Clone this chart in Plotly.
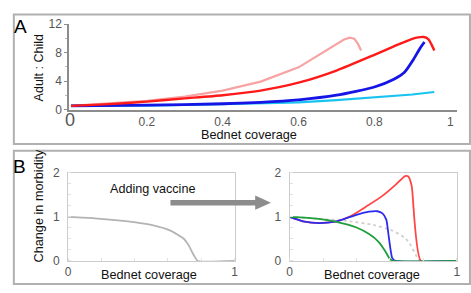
import plotly.graph_objects as go

W, H = 471, 293

# ---------- Panel A data ----------
pink_x = [0, 0.1, 0.2, 0.3, 0.4, 0.5, 0.6, 0.72, 0.735, 0.747, 0.756, 0.765]
pink_y = [0.55, 0.85, 1.25, 1.85, 2.7, 3.95, 5.95, 9.85, 10.1, 9.95, 9.3, 8.3]
red_x = [0, 0.1, 0.2, 0.3, 0.4, 0.5, 0.6, 0.7, 0.8, 0.85, 0.9, 0.93, 0.942, 0.95, 0.958]
red_y = [0.55, 0.8, 1.15, 1.6, 2.05, 2.7, 3.8, 5.5, 7.7, 8.85, 9.95, 10.2, 9.9, 9.2, 8.3]
blue_x = [0, 0.2, 0.4, 0.5, 0.6, 0.7, 0.8, 0.85, 0.88, 0.903, 0.92, 0.932]
blue_y = [0.55, 0.65, 0.85, 1.05, 1.4, 2.05, 3.2, 4.25, 5.3, 7.05, 8.6, 9.5]
cyan_x = [0, 0.2, 0.4, 0.5, 0.6, 0.7, 0.8, 0.9, 0.958]
cyan_y = [0.55, 0.6, 0.78, 0.9, 1.05, 1.35, 1.7, 2.15, 2.5]
a_xticks = [0.2, 0.4, 0.6, 0.8, 1]
a_xticklabels = ["0.2", "0.4", "0.6", "0.8", "1"]
a_yticks = [0, 4, 8, 12]

# ---------- Panel B data ----------
base_x = [0, 0.16, 0.36, 0.5, 0.615, 0.694, 0.724, 0.753, 0.78, 1.0]
base_y = [1.0, 0.97, 0.9, 0.82, 0.69, 0.51, 0.36, 0.145, 0, 0]
redb_x = [0, 0.08, 0.18, 0.28, 0.36, 0.455, 0.555, 0.633, 0.69, 0.71, 0.73, 0.785, 1.0]
redb_y = [1.0, 0.9, 0.86, 0.9, 1.01, 1.23, 1.48, 1.73, 1.93, 1.92, 1.70, 0, 0]
blueb_x = [0, 0.08, 0.18, 0.28, 0.40, 0.475, 0.525, 0.555, 0.578, 0.593, 0.613, 0.632, 1.0]
blueb_y = [1.0, 0.9, 0.86, 0.9, 1.05, 1.12, 1.13, 1.08, 0.94, 0.54, 0.07, 0, 0]
green_x = [0, 0.16, 0.28, 0.40, 0.475, 0.533, 0.572, 0.60, 0.62, 1.0]
green_y = [1.0, 0.96, 0.89, 0.76, 0.61, 0.43, 0.22, 0.04, 0, 0]
b_xticks = [0, 1]
b_yticks = [0, 1, 2]

FONT = "Liberation Sans, Arial, sans-serif"

def px(x):
    return x / W

def py(y):
    return 1 - y / H

fig = go.Figure()

# Panel A traces
fig.add_trace(go.Scatter(x=pink_x, y=pink_y, mode="lines", line=dict(color="#f7a3a3", width=2.2), xaxis="x", yaxis="y"))
fig.add_trace(go.Scatter(x=cyan_x, y=cyan_y, mode="lines", line=dict(color="#19c3f0", width=2.2), xaxis="x", yaxis="y"))
fig.add_trace(go.Scatter(x=blue_x, y=blue_y, mode="lines", line=dict(color="#1515e6", width=2.8, shape="spline", smoothing=0.6), xaxis="x", yaxis="y"))
fig.add_trace(go.Scatter(x=red_x, y=red_y, mode="lines", line=dict(color="#ff1a1a", width=2.4, shape="spline", smoothing=0.6), xaxis="x", yaxis="y"))

# Panel B left
fig.add_trace(go.Scatter(x=base_x, y=base_y, mode="lines", line=dict(color="#b3b3b3", width=1.8, shape="spline", smoothing=0.5), xaxis="x2", yaxis="y2"))
# Panel B right
fig.add_trace(go.Scatter(x=base_x, y=base_y, mode="lines", line=dict(color="#cfcfcf", width=1.8, dash="dot", shape="spline", smoothing=0.5), xaxis="x3", yaxis="y3"))
fig.add_trace(go.Scatter(x=redb_x, y=redb_y, mode="lines", line=dict(color="#ff4545", width=1.8, shape="spline", smoothing=0.5), xaxis="x3", yaxis="y3"))
fig.add_trace(go.Scatter(x=blueb_x, y=blueb_y, mode="lines", line=dict(color="#2b2bef", width=1.8, shape="spline", smoothing=0.5), xaxis="x3", yaxis="y3"))
fig.add_trace(go.Scatter(x=green_x, y=green_y, mode="lines", line=dict(color="#1f9e3c", width=1.8, shape="spline", smoothing=0.5), xaxis="x3", yaxis="y3"))

tickfont = dict(family=FONT, size=12, color="#555555")

# Axes for panel A: 0 -> px 69, 1 -> px 454
x0a, x1a = 67, 461
r0 = (x0a - 69) / 385
r1 = (x1a - 69) / 385
axA = dict(domain=[px(x0a), px(x1a)], range=[r0, r1], showline=True, linecolor="#8c8c8c", linewidth=1.5,
           showgrid=False, zeroline=False, tickvals=a_xticks, ticktext=a_xticklabels, ticks="",
           tickfont=tickfont, anchor="y")
ayA = dict(domain=[py(108), py(18)], range=[0, 12], showline=True, linecolor="#8c8c8c", linewidth=1.5,
           showgrid=False, zeroline=False, tickvals=a_yticks, ticks="outside", ticklen=3, tickcolor="#8c8c8c",
           minor=dict(dtick=2, ticks="outside", ticklen=2, tickcolor="#bbbbbb"),
           tickfont=tickfont, anchor="x")

def b_axes(xl, xr, anchor_x, anchor_y):
    ax = dict(domain=[px(xl), px(xr)], range=[0, 1], showline=True, mirror=True, linecolor="#cccccc", linewidth=1,
              showgrid=False, zeroline=False, tickvals=b_xticks, ticks="", tickfont=tickfont, anchor=anchor_y,
              minor=dict(dtick=0.2, ticks="inside", ticklen=3, tickcolor="#e2e2e2"))
    ay = dict(domain=[py(266.7), py(174.3)], range=[0, 2], showline=True, mirror=True, linecolor="#cccccc", linewidth=1,
              showgrid=False, zeroline=False, tickvals=b_yticks, ticks="", tickfont=tickfont, anchor=anchor_x,
              ticklabelstandoff=5,
              minor=dict(dtick=0.25, ticks="inside", ticklen=3, tickcolor="#e2e2e2"))
    return ax, ay

ax2, ay2 = b_axes(66, 235, "x2", "y2")
ax3, ay3 = b_axes(291, 460.7, "x3", "y3")

ann = []
def text(x, y, s, size=13, color="#111111", angle=0, xanchor="center"):
    ann.append(dict(x=px(x), y=py(y), xref="paper", yref="paper", text=s, showarrow=False,
                    font=dict(family=FONT, size=size, color=color), textangle=angle,
                    xanchor=xanchor, yanchor="middle"))

text(18, 21, "A", size=19, color="#000000")
text(36, 64, "Adult : Child", size=12.5, angle=-90)
text(68, 119, "0", size=18, color="#555555")
text(250, 134.5, "Bednet coverage", size=12.7)
text(17, 167, "B", size=19, color="#000000")
text(37, 209, "Change in morbidity", size=12.7, angle=-90)
text(148, 281.5, "Bednet coverage", size=12.7)
text(375, 281.5, "Bednet coverage", size=12.7)
text(152, 191, "Adding vaccine", size=12.6)

shapes = [
    dict(type="rect", xref="paper", yref="paper", x0=px(11), x1=px(474), y0=py(144), y1=py(8),
         line=dict(color="#b0b0b0", width=2)),
    dict(type="rect", xref="paper", yref="paper", x0=px(11), x1=px(474), y0=py(291), y1=py(151),
         line=dict(color="#b0b0b0", width=2)),
    dict(type="line", xref="paper", yref="paper", x0=px(170), x1=px(258), y0=py(205.5), y1=py(205.5),
         line=dict(color="#8c8c8c", width=5.5)),
    dict(type="path", xref="paper", yref="paper",
         path=f"M {px(256)} {py(198)} L {px(272)} {py(205.5)} L {px(256)} {py(213)} Z",
         fillcolor="#8c8c8c", line=dict(color="#8c8c8c", width=0)),
]

fig.update_layout(
    width=W, height=H, margin=dict(l=0, r=0, t=0, b=0),
    paper_bgcolor="white", plot_bgcolor="white", showlegend=False,
    xaxis=axA, yaxis=ayA, xaxis2=ax2, yaxis2=ay2, xaxis3=ax3, yaxis3=ay3,
    annotations=ann, shapes=shapes,
)

fig.write_html("out.html", config={"displayModeBar": False},
               post_script="document.body.style.margin='0px';document.body.style.overflow='hidden';")
